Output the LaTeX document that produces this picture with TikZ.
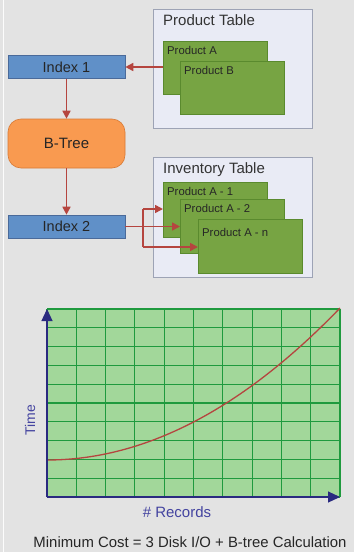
\documentclass[tikz,border=0pt]{standalone}
\usepackage{fontspec}
\setmainfont{Liberation Sans}
\usetikzlibrary{arrows.meta}
\definecolor{bgc}{HTML}{E3E3E3}
\definecolor{tblfill}{HTML}{E9EBF5}
\definecolor{tbldraw}{HTML}{9DA3B5}
\definecolor{recfill}{HTML}{77A443}
\definecolor{recdraw}{HTML}{5A8A2E}
\definecolor{idxfill}{HTML}{6090C8}
\definecolor{idxdraw}{HTML}{4A6A9A}
\definecolor{btfill}{HTML}{F99A50}
\definecolor{btdraw}{HTML}{D87A35}
\definecolor{arr}{HTML}{B5453F}
\definecolor{chfill}{HTML}{A2D79A}
\definecolor{chgrid}{HTML}{1F9A3E}
\definecolor{axc}{HTML}{2A2A80}
\definecolor{axlab}{HTML}{4444A0}
\tikzset{
  tablebox/.style={draw=tbldraw, fill=tblfill, line width=0.8pt, anchor=north west, inner sep=0pt},
  recbox/.style={draw=recdraw, fill=recfill, line width=0.6pt, anchor=north west, minimum width=104pt, minimum height=54pt, inner sep=0pt},
  rectext/.style={anchor=north west, font=\fontsize{11.3}{13}\selectfont, text=black!85, inner sep=0pt},
  idxbox/.style={draw=idxdraw, fill=idxfill, line width=0.6pt, minimum width=117pt, minimum height=23pt, inner sep=0pt, font=\fontsize{14.5}{16}\selectfont, text=black!85},
  conn/.style={draw=arr, line width=1.6pt, -{Triangle[length=8pt,width=8pt]}},
  axis/.style={draw=axc, line width=1.2pt, -{Triangle[length=12pt,width=11pt]}},
  gridline/.style={draw=chgrid, line width=1.1pt},
}
\begin{document}
\begin{tikzpicture}[x=1pt,y=-1pt]
\useasboundingbox (0,0) rectangle (354,552);
\fill[bgc] (0,0) rectangle (354,552);
\draw[white!90!bgc, line width=1pt] (3,0) -- (3,552);

% Product table
\node[tablebox, minimum width=159pt, minimum height=119pt] (pt) at (153,9) {};
\node[anchor=north west, inner sep=0pt, font=\fontsize{15}{17}\selectfont, text=black!80] (ptt) at (163,14) {Product Table};
\node[recbox, minimum height=53pt] (pa) at (163,41) {};
\node[rectext] (pat) at (pa.north west) [xshift=4pt, yshift=-5pt] {Product A};
\node[recbox, minimum height=53pt] (pb) at (180,61) {};
\node[rectext] (pbt) at (pb.north west) [xshift=4pt, yshift=-5pt] {Product B};

% Index 1, B-tree, Index 2
\node[idxbox] (i1) at (66.5,67) {Index 1};
\node[draw=btdraw, fill=btfill, line width=0.6pt, rounded corners=13pt, minimum width=117pt, minimum height=49pt, font=\fontsize{15}{17}\selectfont, text=black!85] (bt) at (66.5,143.5) {B-Tree};
\node[idxbox] (i2) at (66.5,226.5) {Index 2};

\draw[conn] (pa.west |- i1.east) -- (i1.east);
\draw[conn] (i1.south) -- (bt.north);
\draw[conn] (bt.south) -- (i2.north);

% Inventory table
\node[tablebox, minimum width=159pt, minimum height=120pt] (it) at (153,157) {};
\node[anchor=north west, inner sep=0pt, font=\fontsize{15}{17}\selectfont, text=black!80] (itt) at (163,162) {Inventory Table};
\node[recbox, minimum height=55pt] (a1) at (163,182) {};
\node[rectext] (a1t) at (a1.north west) [xshift=4pt, yshift=-5pt] {Product A - 1};
\node[recbox, minimum height=54pt] (a2) at (180,199) {};
\node[rectext] (a2t) at (a2.north west) [xshift=4pt, yshift=-5pt] {Product A - 2};
\node[recbox, minimum height=54pt] (an) at (198,219) {};
\node[rectext] (ant) at (an.north west) [xshift=4pt, yshift=-9pt] {Product A - n};

\coordinate (brt) at (143,209);
\coordinate (brb) at (143,247);
\draw[conn] (i2.east) -- (a2.west |- i2.east);
\draw[draw=arr, line width=1.6pt] (brt) -- (brb);
\draw[conn] (brt) -- (a1.west |- brt);
\draw[conn] (brb) -- (an.west |- brb);

% Chart
\fill[chfill] (47,309) rectangle (340,497);
\foreach \i in {0,...,10} {
  \draw[gridline] ({47+29.3*\i},309) -- ({47+29.3*\i},497);
  \draw[gridline] (47,{309+18.8*\i}) -- (340,{309+18.8*\i});
}
\draw[arr, line width=1.3pt] plot[domain=47:340, samples=60] (\x, {460 - 0.00177*(\x-47)*(\x-47)});
\coordinate (org) at (47,497);
\coordinate (ytip) at (47,309);
\coordinate (xtip) at (340,497);
\draw[axis] (org) -- (ytip);
\draw[axis] (org) -- (xtip);
\node[rotate=90, font=\fontsize{14}{16}\selectfont, text=axlab] (time) at (30,420) {Time};
\node[font=\fontsize{15}{17}\selectfont, text=axlab] (rec) at (177,512) {\# Records};
\node[font=\fontsize{14.9}{17}\selectfont, text=black!85] (cost) at (190,542) {Minimum Cost = 3 Disk I/O + B-tree Calculation};
\end{tikzpicture}
\end{document}
